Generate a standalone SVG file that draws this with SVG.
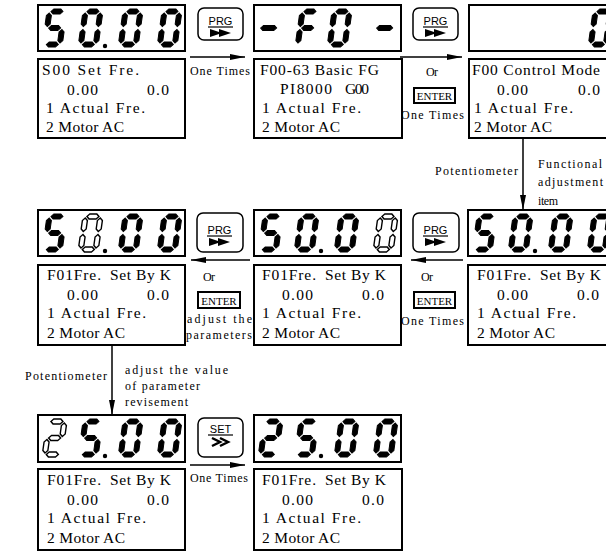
<svg xmlns="http://www.w3.org/2000/svg" width="606" height="552" viewBox="0 0 606 552">
<style>
.box{fill:#fff;stroke:#000;stroke-width:2}
.btn{fill:#fff;stroke:#000;stroke-width:1.5}
.on{fill:#000;stroke:#000;stroke-width:1}
.off{fill:#fff;stroke:#000;stroke-width:1.4}
.lcd{font-family:"Liberation Serif","Times New Roman",serif;font-size:15.5px;fill:#000}
.lbl{font-family:"Liberation Serif","Times New Roman",serif;font-size:12px;fill:#000}
.key{font-family:"Liberation Sans",Arial,sans-serif;font-size:11px;fill:#000;text-anchor:middle}
.ent{font-family:"Liberation Serif","Times New Roman",serif;font-size:11px;fill:#000;text-anchor:middle}
.arr{stroke:#000;stroke-width:1.5;fill:none;marker-end:url(#ah)}
</style>
<defs>
<marker id="ah" markerUnits="userSpaceOnUse" markerWidth="16" markerHeight="6" refX="15" refY="3" orient="auto"><path d="M0,0 L15,3 L0,6 z" fill="#000"/></marker>
<g id="d0">
<polygon points="4,2.5 6.5,0 13.5,0 16,2.5 13.5,5 6.5,5"/>
<polygon points="17.5,4 20,6.5 20,15 17.5,17.5 15,15 15,6.5"/>
<polygon points="17.5,20.5 20,23 20,31.5 17.5,34 15,31.5 15,23"/>
<polygon points="4,35.5 6.5,33 13.5,33 16,35.5 13.5,38 6.5,38"/>
<polygon points="2.5,20.5 5,23 5,31.5 2.5,34 0,31.5 0,23"/>
<polygon points="2.5,4 5,6.5 5,15 2.5,17.5 0,15 0,6.5"/>
</g>
<g id="d5">
<polygon points="4,2.5 6.5,0 13.5,0 16,2.5 13.5,5 6.5,5"/>
<polygon points="2.5,4 5,6.5 5,15 2.5,17.5 0,15 0,6.5"/>
<polygon points="4,19 6.5,16.5 13.5,16.5 16,19 13.5,21.5 6.5,21.5"/>
<polygon points="17.5,20.5 20,23 20,31.5 17.5,34 15,31.5 15,23"/>
<polygon points="4,35.5 6.5,33 13.5,33 16,35.5 13.5,38 6.5,38"/>
</g>
<g id="d2">
<polygon points="4,2.5 6.5,0 13.5,0 16,2.5 13.5,5 6.5,5"/>
<polygon points="17.5,4 20,6.5 20,15 17.5,17.5 15,15 15,6.5"/>
<polygon points="4,19 6.5,16.5 13.5,16.5 16,19 13.5,21.5 6.5,21.5"/>
<polygon points="2.5,20.5 5,23 5,31.5 2.5,34 0,31.5 0,23"/>
<polygon points="4,35.5 6.5,33 13.5,33 16,35.5 13.5,38 6.5,38"/>
</g>
<g id="dF">
<polygon points="4,2.5 6.5,0 13.5,0 16,2.5 13.5,5 6.5,5"/>
<polygon points="2.5,4 5,6.5 5,15 2.5,17.5 0,15 0,6.5"/>
<polygon points="4,19 6.5,16.5 13.5,16.5 16,19 13.5,21.5 6.5,21.5"/>
<polygon points="2.5,20.5 5,23 5,31.5 2.5,34 0,31.5 0,23"/>
</g>
<g id="dm">
<polygon points="2,19 4.5,16.5 15.5,16.5 18,19 15.5,21.5 4.5,21.5"/>
</g>
<g id="prg">
<text class="key" x="22.5" y="16">PRG</text>
<line x1="10" y1="18" x2="35" y2="18" stroke="#000" stroke-width="1.2"/>
<polygon points="12,20 12,28 24,24"/>
<polygon points="21,20 21,28 33,24"/>
</g>
</defs>

<g id="connectors">
<line class="arr" x1="190" y1="57" x2="245" y2="57"/>
<line class="arr" x1="400" y1="57" x2="462" y2="57"/>
<line class="arr" x1="523" y1="138" x2="523" y2="210"/>
<line class="arr" x1="250" y1="260" x2="191" y2="260"/>
<line class="arr" x1="463" y1="260" x2="411" y2="260"/>
<line class="arr" x1="112" y1="345" x2="112" y2="415"/>
<line class="arr" x1="190" y1="465" x2="245" y2="465"/>
</g>

<g id="labels">
<text class="lbl" x="190" y="75" textLength="60">One Times</text>
<text class="lbl" x="426" y="76" textLength="12">Or</text>
<rect x="414" y="88" width="41" height="15" fill="#fff" stroke="#000" stroke-width="2"/>
<text class="ent" x="434.5" y="100">ENTER</text>
<text class="lbl" x="401" y="119" textLength="63">One Times</text>
<text class="lbl" x="435" y="175" textLength="83">Potentiometer</text>
<text class="lbl" x="538" y="168" textLength="64">Functional</text>
<text class="lbl" x="538" y="186" textLength="65">adjustment</text>
<text class="lbl" x="538" y="205" textLength="20">item</text>
<text class="lbl" x="203" y="281" textLength="12">Or</text>
<rect x="198" y="292" width="42" height="16" fill="#fff" stroke="#000" stroke-width="2"/>
<text class="ent" x="219" y="304.5">ENTER</text>
<text class="lbl" x="187" y="323" textLength="65">adjust the</text>
<text class="lbl" x="186" y="339" textLength="66">parameters</text>
<text class="lbl" x="421" y="281" textLength="12">Or</text>
<rect x="414" y="292" width="41" height="16" fill="#fff" stroke="#000" stroke-width="2"/>
<text class="ent" x="434.5" y="304.5">ENTER</text>
<text class="lbl" x="401" y="325" textLength="63">One Times</text>
<text class="lbl" x="25" y="380" textLength="82">Potentiometer</text>
<text class="lbl" x="125" y="374" textLength="103">adjust the value</text>
<text class="lbl" x="125" y="390" textLength="75">of parameter</text>
<text class="lbl" x="125" y="406" textLength="63">revisement</text>
<text class="lbl" x="190" y="482" textLength="58">One Times</text>
</g>

<g id="btn-prg-1"><rect class="btn" x="198" y="8" width="45" height="32" rx="6"/><use href="#prg" transform="translate(198,9)"/></g>
<g id="btn-prg-2"><rect class="btn" x="413" y="8" width="45" height="32" rx="6"/><use href="#prg" transform="translate(413,9)"/></g>
<g id="btn-prg-3"><rect class="btn" x="197" y="213" width="46" height="39" rx="6"/><use href="#prg" transform="translate(197,218)"/></g>
<g id="btn-prg-4"><rect class="btn" x="413" y="213" width="46" height="39" rx="6"/><use href="#prg" transform="translate(413,218)"/></g>
<g id="btn-set">
<rect class="btn" x="198" y="418" width="45" height="39" rx="6"/>
<text class="key" x="220.5" y="433">SET</text>
<line x1="208" y1="435" x2="233" y2="435" stroke="#000" stroke-width="1.2"/>
<polyline points="212,438 220,442 212,446" fill="none" stroke="#000" stroke-width="2.5"/>
<polyline points="220,438 228,442 220,446" fill="none" stroke="#000" stroke-width="2.5"/>
</g>

<g id="disp-1-1">
<rect class="box" x="38" y="5" width="147" height="46"/>
<use href="#d5" class="on" transform="translate(47.3,9) skewX(-8)"/>
<use href="#d0" class="on" transform="translate(83.3,9) skewX(-8)"/>
<circle cx="105" cy="46" r="2.2"/>
<use href="#d0" class="on" transform="translate(123.3,9) skewX(-8)"/>
<use href="#d0" class="on" transform="translate(162.3,9) skewX(-8)"/>
</g>
<g id="lcd-1-1">
<rect class="box" x="38" y="59" width="147" height="79"/>
<text class="lcd" x="42" y="75" textLength="97">S00 Set Fre.</text>
<text class="lcd" x="67" y="95" textLength="31">0.00</text>
<text class="lcd" x="147" y="95" textLength="22">0.0</text>
<text class="lcd" x="46" y="113" textLength="99">1 Actual Fre.</text>
<text class="lcd" x="46" y="132" textLength="78">2 Motor AC</text>
</g>

<g id="disp-1-2">
<rect class="box" x="254" y="5" width="147" height="46"/>
<use href="#dm" class="on" transform="translate(261.3,9) skewX(-8)"/>
<use href="#dF" class="on" transform="translate(300.3,9) skewX(-8)"/>
<use href="#d0" class="on" transform="translate(332.3,9) skewX(-8)"/>
<use href="#dm" class="on" transform="translate(377.3,9) skewX(-8)"/>
</g>
<g id="lcd-1-2">
<rect class="box" x="254" y="59" width="148" height="79"/>
<text class="lcd" x="260" y="75" textLength="119">F00-63 Basic FG</text>
<text class="lcd" x="280" y="94" textLength="52">PI8000</text>
<text class="lcd" x="345" y="94" textLength="24">G00</text>
<text class="lcd" x="262" y="113" textLength="99">1 Actual Fre.</text>
<text class="lcd" x="262" y="132" textLength="78">2 Motor AC</text>
</g>

<g id="disp-1-3">
<rect class="box" x="469" y="5" width="150" height="46"/>
<use href="#d0" class="on" transform="translate(593.3,9) skewX(-8)"/>
</g>
<g id="lcd-1-3">
<rect class="box" x="469" y="59" width="150" height="79"/>
<text class="lcd" x="472" y="75" textLength="128">F00 Control Mode</text>
<text class="lcd" x="497" y="95" textLength="31">0.00</text>
<text class="lcd" x="578" y="95" textLength="22">0.0</text>
<text class="lcd" x="474" y="113" textLength="99">1 Actual Fre.</text>
<text class="lcd" x="474" y="132" textLength="78">2 Motor AC</text>
</g>

<g id="disp-2-1">
<rect class="box" x="38" y="210" width="147" height="46"/>
<use href="#d5" class="on" transform="translate(47.3,214) skewX(-8)"/>
<use href="#d0" class="off" transform="translate(83.3,214) skewX(-8)"/>
<circle cx="105" cy="251" r="2.2"/>
<use href="#d0" class="on" transform="translate(123.3,214) skewX(-8)"/>
<use href="#d0" class="on" transform="translate(162.3,214) skewX(-8)"/>
</g>
<g id="lcd-2-1">
<rect class="box" x="38" y="265" width="147" height="80"/>
<text class="lcd" x="47" y="280" textLength="54">F01Fre.</text>
<text class="lcd" x="110" y="280" textLength="61">Set By K</text>
<text class="lcd" x="67" y="300" textLength="31">0.00</text>
<text class="lcd" x="147" y="300" textLength="22">0.0</text>
<text class="lcd" x="47" y="318" textLength="99">1 Actual Fre.</text>
<text class="lcd" x="47" y="338" textLength="78">2 Motor AC</text>
</g>

<g id="disp-2-2">
<rect class="box" x="254" y="210" width="147" height="46"/>
<use href="#d5" class="on" transform="translate(263.3,214) skewX(-8)"/>
<use href="#d0" class="on" transform="translate(299.3,214) skewX(-8)"/>
<circle cx="321" cy="251" r="2.2"/>
<use href="#d0" class="on" transform="translate(339.3,214) skewX(-8)"/>
<use href="#d0" class="off" transform="translate(378.3,214) skewX(-8)"/>
</g>
<g id="lcd-2-2">
<rect class="box" x="254" y="265" width="147" height="80"/>
<text class="lcd" x="262" y="280" textLength="54">F01Fre.</text>
<text class="lcd" x="325" y="280" textLength="61">Set By K</text>
<text class="lcd" x="282" y="300" textLength="31">0.00</text>
<text class="lcd" x="362" y="300" textLength="22">0.0</text>
<text class="lcd" x="262" y="318" textLength="99">1 Actual Fre.</text>
<text class="lcd" x="262" y="338" textLength="78">2 Motor AC</text>
</g>

<g id="disp-2-3">
<rect class="box" x="468" y="210" width="150" height="46"/>
<use href="#d5" class="on" transform="translate(477.3,214) skewX(-8)"/>
<use href="#d0" class="on" transform="translate(513.3,214) skewX(-8)"/>
<circle cx="535" cy="251" r="2.2"/>
<use href="#d0" class="on" transform="translate(553.3,214) skewX(-8)"/>
<use href="#d0" class="on" transform="translate(592.3,214) skewX(-8)"/>
</g>
<g id="lcd-2-3">
<rect class="box" x="468" y="265" width="150" height="80"/>
<text class="lcd" x="477" y="280" textLength="54">F01Fre.</text>
<text class="lcd" x="540" y="280" textLength="61">Set By K</text>
<text class="lcd" x="497" y="300" textLength="31">0.00</text>
<text class="lcd" x="577" y="300" textLength="22">0.0</text>
<text class="lcd" x="477" y="318" textLength="99">1 Actual Fre.</text>
<text class="lcd" x="477" y="338" textLength="78">2 Motor AC</text>
</g>

<g id="disp-3-1">
<rect class="box" x="38" y="415" width="147" height="47"/>
<use href="#d2" class="off" transform="translate(47.3,419) skewX(-8)"/>
<use href="#d5" class="on" transform="translate(83.3,419) skewX(-8)"/>
<circle cx="105" cy="456" r="2.2"/>
<use href="#d0" class="on" transform="translate(123.3,419) skewX(-8)"/>
<use href="#d0" class="on" transform="translate(162.3,419) skewX(-8)"/>
</g>
<g id="lcd-3-1">
<rect class="box" x="38" y="469" width="147" height="81"/>
<text class="lcd" x="47" y="485" textLength="54">F01Fre.</text>
<text class="lcd" x="110" y="485" textLength="61">Set By K</text>
<text class="lcd" x="67" y="505" textLength="31">0.00</text>
<text class="lcd" x="147" y="505" textLength="22">0.0</text>
<text class="lcd" x="47" y="523" textLength="99">1 Actual Fre.</text>
<text class="lcd" x="47" y="543" textLength="78">2 Motor AC</text>
</g>

<g id="disp-3-2">
<rect class="box" x="254" y="415" width="147" height="47"/>
<use href="#d2" class="on" transform="translate(263.3,419) skewX(-8)"/>
<use href="#d5" class="on" transform="translate(299.3,419) skewX(-8)"/>
<circle cx="321" cy="456" r="2.2"/>
<use href="#d0" class="on" transform="translate(339.3,419) skewX(-8)"/>
<use href="#d0" class="on" transform="translate(378.3,419) skewX(-8)"/>
</g>
<g id="lcd-3-2">
<rect class="box" x="254" y="469" width="148" height="81"/>
<text class="lcd" x="262" y="485" textLength="54">F01Fre.</text>
<text class="lcd" x="325" y="485" textLength="61">Set By K</text>
<text class="lcd" x="282" y="505" textLength="31">0.00</text>
<text class="lcd" x="362" y="505" textLength="22">0.0</text>
<text class="lcd" x="262" y="523" textLength="99">1 Actual Fre.</text>
<text class="lcd" x="262" y="543" textLength="78">2 Motor AC</text>
</g>
</svg>
